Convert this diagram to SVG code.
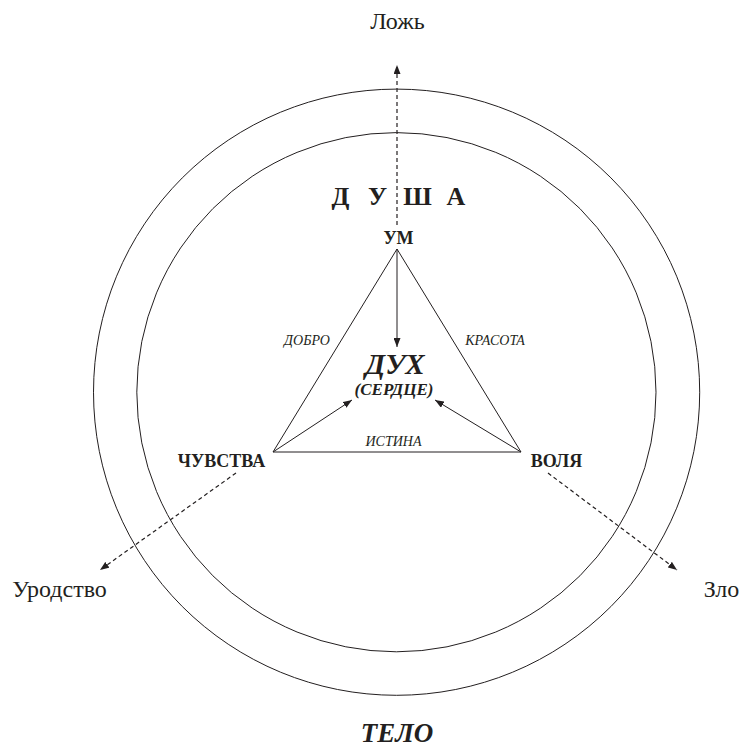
<svg xmlns="http://www.w3.org/2000/svg" width="743" height="750" viewBox="0 0 743 750">
<style>
text{font-family:"Liberation Serif","Times New Roman",serif;fill:#231f20;text-anchor:middle}
.reg{font-size:24px}
.b{font-weight:bold}
.i{font-style:italic}
.line{stroke:#231f20;stroke-width:1;fill:none}
.dash{stroke:#231f20;stroke-width:1.2;fill:none;stroke-dasharray:4 3}
</style>
<defs>
<marker id="ah" markerUnits="userSpaceOnUse" markerWidth="10" markerHeight="7" refX="9" refY="3.5" orient="auto">
<path d="M0,0 L9,3.5 L0,7 z" fill="#231f20"/>
</marker>
</defs>
<rect width="743" height="750" fill="#fff"/>
<g id="circles">
<circle cx="396.6" cy="392.2" r="303.1" class="line"/>
<circle cx="396.4" cy="392.2" r="259.6" class="line"/>
</g>
<g id="triangle">
<path d="M397,249 L273,452 L521,452 Z" class="line"/>
</g>
<g id="connectors">
<line x1="397" y1="249" x2="397" y2="347" class="line" marker-end="url(#ah)"/>
<line x1="273" y1="452" x2="352" y2="400" class="line" marker-end="url(#ah)"/>
<line x1="521" y1="452" x2="435" y2="400" class="line" marker-end="url(#ah)"/>
<line x1="397" y1="225" x2="397" y2="65" class="dash" marker-end="url(#ah)"/>
<line x1="236" y1="473" x2="100" y2="570" class="dash" marker-end="url(#ah)"/>
<line x1="548" y1="473" x2="677" y2="570" class="dash" marker-end="url(#ah)"/>
</g>
<g id="lozh"><text class="reg" x="397.5" y="29">Ложь</text></g>
<g id="dusha">
<text class="b" font-size="26" x="340.5" y="205">Д</text>
<text class="b" font-size="26" x="377.5" y="205">У</text>
<text class="b" font-size="26" x="417.5" y="205">Ш</text>
<text class="b" font-size="26" x="456" y="205">А</text>
</g>
<g id="um"><text class="b" font-size="18" x="398.5" y="244">УМ</text></g>
<g id="labels">
<text class="i" font-size="14" x="307" y="345">ДОБРО</text>
<text class="i" font-size="14" x="495" y="345">КРАСОТА</text>
<text class="i" font-size="14" x="393.5" y="446">ИСТИНА</text>
</g>
<g id="dukh">
<text class="b i" font-size="29" x="395" y="374">ДУХ</text>
<text class="b i" font-size="17" x="394" y="395">(СЕРДЦЕ)</text>
</g>
<g id="chuvstva"><text class="b" font-size="18" x="221.5" y="467">ЧУВСТВА</text></g>
<g id="volya"><text class="b" font-size="18" x="556.5" y="467">ВОЛЯ</text></g>
<g id="urodstvo"><text class="reg" x="59.5" y="597">Уродство</text></g>
<g id="zlo"><text class="reg" x="721.5" y="597">Зло</text></g>
<g id="telo"><text class="b i" font-size="27" x="397" y="742">ТЕЛО</text></g>
</svg>
